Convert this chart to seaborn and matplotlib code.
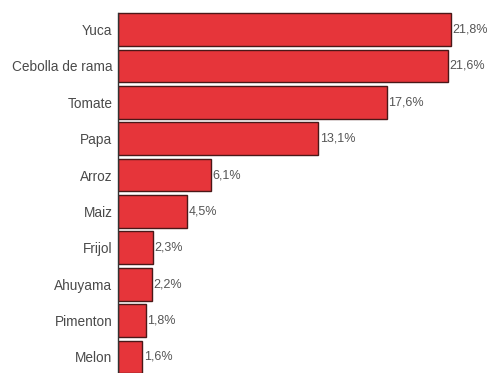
import matplotlib
matplotlib.use("Agg")
import matplotlib.pyplot as plt
import seaborn as sns
import pandas as pd

categories = ["Yuca", "Cebolla de rama", "Tomate", "Papa", "Arroz", "Maiz",
              "Frijol", "Ahuyama", "Pimenton", "Melon"]
values = [21.8, 21.6, 17.6, 13.1, 6.1, 4.5, 2.3, 2.2, 1.8, 1.6]
labels = ["21,8%", "21,6%", "17,6%", "13,1%", "6,1%", "4,5%", "2,3%", "2,2%", "1,8%", "1,6%"]

sns.set_style("white")
plt.rcParams['font.family'] = ['Liberation Sans', 'DejaVu Sans']

df = pd.DataFrame({"cat": categories, "val": values})
fig = plt.figure(figsize=(5.01, 3.73), dpi=100)
ax = fig.add_axes([118/501, 0, 382/501, (373-11.3)/373])
sns.barplot(data=df, x="val", y="cat", color="#e6353a", saturation=1,
            edgecolor="#4a1818", linewidth=1.0, width=0.9, ax=ax)
ax.set_xlim(0, 25)
ax.set_ylim(9.44, -0.5)
for i, (v, t) in enumerate(zip(values, labels)):
    ax.text(v + 0.1, i, t, va="center", ha="left", fontsize=9, color="#555555")
ax.set_xlabel("")
ax.set_ylabel("")
ax.set_xticks([])
ax.tick_params(axis="y", length=0, pad=4, labelsize=9.8, labelcolor="#4a4a4a")
for s in ["top", "right", "bottom"]:
    ax.spines[s].set_visible(False)
ax.spines["left"].set_color("#333333")
ax.spines["left"].set_linewidth(1.0)
ax.spines["left"].set_bounds(-0.45, 9.44)
fig.savefig("out.png", dpi=100)
